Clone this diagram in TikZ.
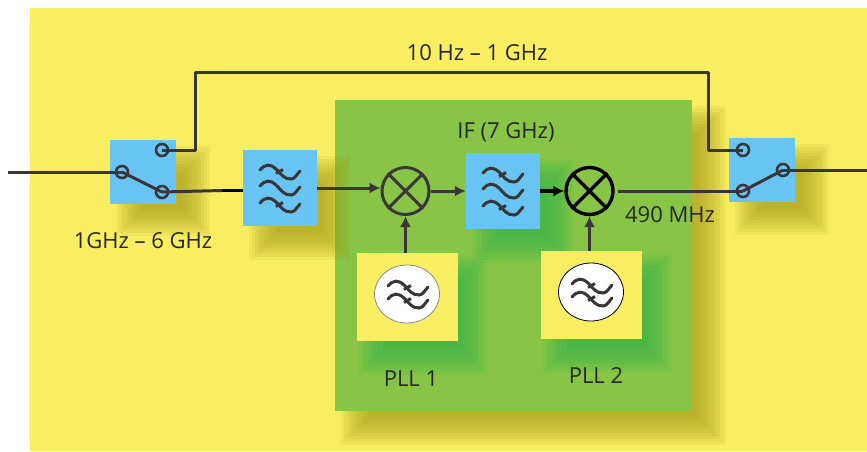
\documentclass[tikz,border=0pt]{standalone}
\usepackage{fontspec}
\setmainfont{Open Sans}
\usetikzlibrary{arrows,calc,arrows.meta,shapes.geometric}
\definecolor{bgyellow}{HTML}{F9EE62}
\definecolor{panelgreen}{HTML}{88C546}
\definecolor{boxblue}{HTML}{68C4F2}
\definecolor{wire}{HTML}{3A3538}
\definecolor{shadeolive}{HTML}{A09818}
\definecolor{shadegreen}{HTML}{2FB24A}
\newcommand{\softshade}[5]{
	\foreach \g in {14,11,8,5,2,-1,-4,-7,-10,-13}
		\fill[#5,opacity=0.1] (#1-\g,#2-\g) rectangle (#3+\g,#4+\g);
}
\tikzset{>={Latex[width=11pt,length=11pt]}}
\tikzset{
	freqlabel/.style={text=black!85,font=\fontsize{22}{26}\selectfont,inner sep=0pt},
	blockbox/.style={fill=boxblue,inner sep=0pt},
	pllbox/.style={fill=bgyellow,inner sep=0pt},
	vco/.style={ellipse,draw=#1,fill=white,line width=0.8pt,minimum width=65pt,minimum height=58pt,inner sep=0pt},
	terminal/.style={circle,draw=wire,line width=2.6pt,minimum size=12pt,inner sep=0pt},
	mixer/.style={circle,draw=#1,line width=3pt,minimum size=47pt,inner sep=0pt},
	wiring/.style={draw=wire,line width=3pt},
	heavy/.style={draw=black,line width=3.4pt},
	tilde/.pic={
		\draw[wiring,line cap=round] (-20,-2) .. controls (-15,-8) and (-10,-8.5) .. (-4,-3) .. controls (2,3) and (4,7) .. (11,7) .. controls (15,7) and (17,2) .. (20,-1);
	},
	tildetick/.pic={
		\pic {tilde};
		\draw[wiring] (-4,1.5) -- (3,-2.5);
	}
}
\begin{document}
\begin{tikzpicture}[x=1pt,y=-1pt]
	\useasboundingbox (0,0) rectangle (867,451);
	\fill[bgyellow] (30,8) rectangle (867,451);

	\softshade{355}{120}{712}{431}{shadeolive}
	\fill[panelgreen] (335,100) rectangle (692,411);

	\softshade{130}{160}{196}{222}{shadeolive}
	\softshade{263}{170}{337}{246}{shadeolive}
	\softshade{486}{173}{560}{249}{shadegreen}
	\softshade{749}{158}{815}{221}{shadeolive}
	\softshade{373}{269}{474}{361}{shadegreen}
	\softshade{557}{267}{658}{359}{shadegreen}

	\node[blockbox,minimum width=66pt,minimum height=64pt] (swa) at (143,172) {};
	\node[blockbox,minimum width=74pt,minimum height=76pt] (lpfa) at (280,188) {};
	\node[blockbox,minimum width=74pt,minimum height=76pt] (lpfb) at (503,191) {};
	\node[blockbox,minimum width=66pt,minimum height=64pt] (swb) at (762,170) {};
	\node[pllbox,minimum width=101pt,minimum height=88pt] (plla) at (407.5,297) {};
	\node[pllbox,minimum width=101pt,minimum height=88pt] (pllb) at (591.5,295) {};

	\node[vco=black!45] (vcoa) at (407,294) {};
	\node[vco=black] (vcob) at (591,292) {};

	\node[mixer=wire] (mixa) at (405.5,191) {};
	\node[mixer=black,line width=3.4pt] (mixb) at (589.5,191) {};
	\draw[wiring] (mixa.45) -- (mixa.225);
	\draw[wiring] (mixa.135) -- (mixa.315);
	\draw[heavy] (mixb.45) -- (mixb.225);
	\draw[heavy] (mixb.135) -- (mixb.315);

	\node[terminal] (ina) at (122,172) {};
	\node[terminal] (upa) at (162,150) {};
	\node[terminal] (loa) at (162,192) {};
	\node[terminal] (upb) at (743,150) {};
	\node[terminal] (lob) at (743,191) {};
	\node[terminal] (outb) at (783,170) {};

	\pic at (280,172) {tildetick};
	\pic at (280,188) {tilde};
	\pic at (280,205) {tildetick};
	\pic at (503,175) {tildetick};
	\pic at (503,191) {tilde};
	\pic at (503,208) {tildetick};
	\pic at (408,288) {tildetick};
	\pic at (408,301) {tildetick};
	\pic at (592,286) {tildetick};
	\pic at (592,299) {tildetick};

	\coordinate (rfin) at (8,172);
	\coordinate (rfout) at (867,170);
	\coordinate (bendup) at (195,150);
	\coordinate (bendtop) at (195,72);
	\coordinate (topend) at (708,72);
	\coordinate (benddown) at (708,150);
	\coordinate (thick) at (222,190.5);

	\draw[wiring] (rfin) -- (ina.center);
	\draw[wiring] (ina.center) -- (loa.center);
	\draw[wiring,line join=round] (upa.center) -- (bendup) -- (bendtop) -- (topend) -- (benddown) -- (upb.center);
	\draw[wiring] (loa.center) -- (thick);
	\draw[heavy] (thick) -- (lpfa.west |- thick);
	\draw[wiring,->] (lpfa.east) -- (lpfa.east -| mixa.west);
	\draw[wiring,->] (mixa.east) -- (lpfb.west);
	\draw[heavy,->] (lpfb.east) -- (mixb.west);
	\draw[wiring,shorten <=3pt] (mixb.east) -- (lob.center);
	\draw[wiring] (lob.center) -- (outb.center);
	\draw[wiring] (outb.center) -- (rfout);
	\draw[wiring,->] (plla.north -| mixa) -- (mixa.south);
	\draw[wiring,->] (pllb.north -| mixb) -- (mixb.south);

	\node[freqlabel] (lbltop) at (477,53) {10 Hz – 1 GHz};
	\node[freqlabel] (lblin) at (143,241) {1GHz – 6 GHz};
	\node[freqlabel] (lblif) at (506,132) {IF (7 GHz)};
	\node[freqlabel] (lblout) at (670,215) {490 MHz};
	\node[freqlabel] (lblplla) at (411,379) {PLL 1};
	\node[freqlabel] (lblpllb) at (596,376) {PLL 2};
\end{tikzpicture}
\end{document}
